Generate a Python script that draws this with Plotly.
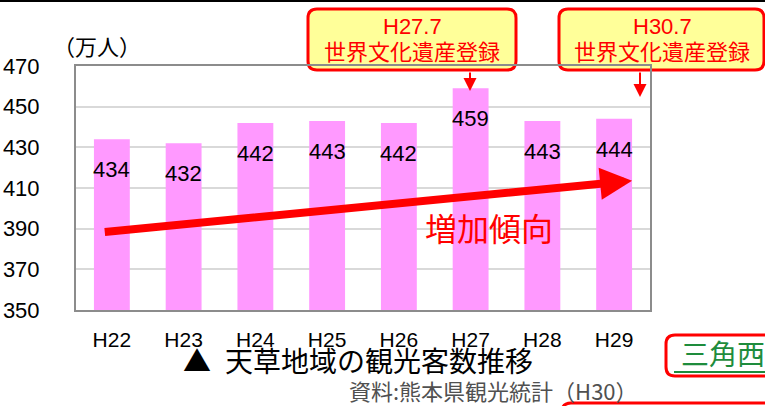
import plotly.graph_objects as go

# データ（天草地域の観光客数, 万人）
years = ["H22", "H23", "H24", "H25", "H26", "H27", "H28", "H29"]
visitors = [434, 432, 442, 443, 442, 459, 443, 444]
y_ticks = [350, 370, 390, 410, 430, 450, 470]

W, H = 765, 406
L, R, T, B = 76, 650, 66, 310   # plot area in pixels

def px(x):
    return (x - L) / (R - L)

def py(y):
    return (B - y) / (B - T)

def rounded_box(x0, y0, x1, y1, r=9):
    # rounded rectangle path in paper coords, from pixel corners
    rx, ry = r / (R - L), r / (B - T)
    a0, a1, b0, b1 = px(x0), px(x1), py(y1), py(y0)
    return (f"M {a0+rx},{b0} L {a1-rx},{b0} Q {a1},{b0} {a1},{b0+ry} "
            f"L {a1},{b1-ry} Q {a1},{b1} {a1-rx},{b1} L {a0+rx},{b1} "
            f"Q {a0},{b1} {a0},{b1-ry} L {a0},{b0+ry} Q {a0},{b0} {a0+rx},{b0} Z")

jp = "Noto Sans CJK JP, sans-serif"
num = "Arial, Liberation Sans, sans-serif"

def label(x, y, text, size, color, family=jp, xanchor="center"):
    return dict(x=px(x), y=py(y), xref="paper", yref="paper", text=text,
                showarrow=False, xanchor=xanchor, yanchor="middle", align="center",
                font=dict(size=size, color=color, family=family))

fig = go.Figure()
fig.add_trace(go.Bar(x=years, y=visitors, marker_color="#FF99FF",
                     marker_line_width=0, hoverinfo="skip"))

annots = []
# bar value labels
for yr, v in zip(years, visitors):
    annots.append(dict(x=yr, y=v - 15, text=str(v), showarrow=False,
                       xanchor="center", yanchor="middle",
                       font=dict(size=22, color="black", family=num)))

# trend arrow
annots.append(dict(x=7.25, y=413.6, ax=-0.12, ay=388.3, axref="x", ayref="y",
                   xref="x", yref="y", text="", showarrow=True,
                   arrowhead=2, arrowsize=0.8, arrowwidth=8, arrowcolor="#FF0000"))
annots.append(label(489, 227, "増加傾向", 32, "#FF0000"))

# unit
annots.append(label(97, 45, "（万人）", 22, "black"))

# callouts
for cx, when in [(412, "H27.7"), (662, "H30.7")]:
    annots.append(label(cx, 26, when, 22, "#FF0000", family=num))
    annots.append(label(cx, 50, "世界文化遺産登録", 22, "#FF0000"))
annots.append(dict(x=px(470), y=py(91), xref="paper", yref="paper", text="",
                   ax=0, ay=-20, showarrow=True, arrowhead=2, arrowsize=1.3,
                   arrowwidth=2, arrowcolor="#FF0000"))
annots.append(dict(x=px(640), y=py(97), xref="paper", yref="paper", text="",
                   ax=0, ay=-26, showarrow=True, arrowhead=2, arrowsize=1.3,
                   arrowwidth=2, arrowcolor="#FF0000"))

# caption
annots.append(label(358, 360, "▲\u2002天草地域の観光客数推移", 28, "black"))
annots.append(label(493, 390, "資料:熊本県観光統計（H30）", 22, "#505050"))

# cut-off element on the right
annots.append(label(679, 353, "三角西", 28, "#1E8C3C", xanchor="left"))

shapes = [
    dict(type="line", xref="paper", yref="paper", x0=px(0), x1=px(W), y0=py(1), y1=py(1),
         line=dict(color="black", width=2)),
    dict(type="path", xref="paper", yref="paper", path=rounded_box(308, 9, 516, 70),
         fillcolor="#FFFF99", line=dict(color="#FF0000", width=3), layer="below"),
    dict(type="path", xref="paper", yref="paper", path=rounded_box(559, 9, 764, 70),
         fillcolor="#FFFF99", line=dict(color="#FF0000", width=3), layer="below"),
    dict(type="path", xref="paper", yref="paper", path=rounded_box(666, 335, 790, 376),
         fillcolor="white", line=dict(color="#FF0000", width=3), layer="below"),
    dict(type="line", xref="paper", yref="paper", x0=px(674), x1=px(780), y0=py(372), y1=py(372),
         line=dict(color="#1E8C3C", width=2)),
    dict(type="path", xref="paper", yref="paper", path=rounded_box(562, 403, 800, 440),
         fillcolor="white", line=dict(color="#FF0000", width=3), layer="below"),
]

fig.update_layout(
    width=W, height=H,
    margin=dict(l=L, r=W - R, t=T, b=H - B, autoexpand=False),
    plot_bgcolor="white", paper_bgcolor="white",
    bargap=0.5, showlegend=False,
    annotations=annots, shapes=shapes,
    xaxis=dict(type="category", range=[-0.5, 7.5], showgrid=False, automargin=False,
               showline=True, linecolor="#8C8C8C", linewidth=2, mirror=True,
               ticks="", ticklabelstandoff=10,
               tickfont=dict(size=21, color="black", family=num)),
    yaxis=dict(range=[350, 470], tickvals=y_ticks, showgrid=True, automargin=False,
               gridcolor="#D9D9D9", gridwidth=2, zeroline=False,
               showline=True, linecolor="#8C8C8C", linewidth=2, mirror=True,
               ticks="", ticklabelstandoff=30,
               tickfont=dict(size=22, color="black", family=num)),
)

fig.write_html("out.html", config={"displayModeBar": False},
               post_script="document.body.style.margin='0';")
